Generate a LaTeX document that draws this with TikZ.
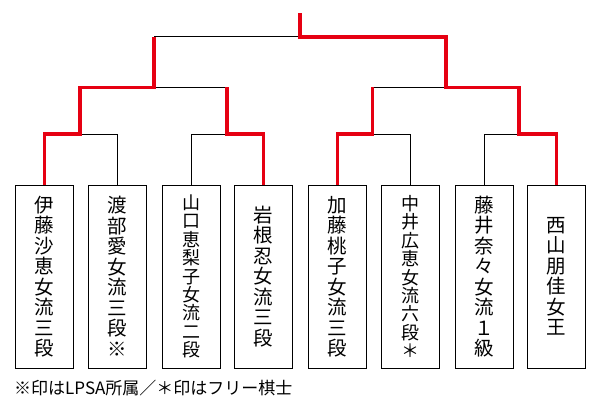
\documentclass[tikz,border=0pt]{standalone}
\usepackage{fontspec}
\newfontfamily\jp{Noto Sans CJK JP}
\definecolor{winred}{RGB}{230,0,18}
\tikzset{x=1pt, y=-1pt,
    player/.style={draw, line width=0.8pt, minimum width=58pt, minimum height=183pt,
        inner sep=0pt, align=center, font=\jp\fontsize{19.5}{20.5}\selectfont},
    longname/.style={font=\jp\fontsize{18}{18.4}\selectfont},
    loser/.style={draw=black, line width=0.8pt},
    winner/.style={draw=winred, line width=3.6pt},
    }
\begin{document}
\begin{tikzpicture}
\useasboundingbox (0,0) rectangle (600,400);
% players
\node[player] (p1) at (44.3,276.5) {伊\\藤\\沙\\恵\\女\\流\\三\\段};
\node[player] (p2) at (117.3,276.5) {渡\\部\\愛\\女\\流\\三\\段\\※};
\node[player,longname] (p3) at (191.3,276.5) {山\\口\\恵\\梨\\子\\女\\流\\二\\段};
\node[player] (p4) at (263.3,276.5) {岩\\根\\忍\\女\\流\\三\\段};
\node[player] (p5) at (337.3,276.5) {加\\藤\\桃\\子\\女\\流\\三\\段};
\node[player,longname] (p6) at (410.5,276.5) {中\\井\\広\\恵\\女\\流\\六\\段\\＊};
\node[player] (p7) at (484.3,276.5) {藤\\井\\奈\\々\\女\\流\\１\\級};
\node[player] (p8) at (556.3,276.5) {西\\山\\朋\\佳\\女\\王};
% junctions
\coordinate (j12) at (80,134);
\coordinate (j34) at (226.7,134);
\coordinate (j56) at (372.3,134);
\coordinate (j78) at (519,134);
\coordinate (j14) at (154,87.3);
\coordinate (j58) at (445.7,87.3);
\coordinate (final) at (300,36.8);
\coordinate (champ) at (300,13);
% black lines
\draw[loser] (p2.north) |- (j12);
\draw[loser] (p3.north) |- (j34);
\draw[loser] (j34 |- j14) -- (j14);
\draw[loser] (j14 |- final) -- (final);
\draw[loser] (p6.north) |- (j56);
\draw[loser] (j56 |- j58) -- (j58);
\draw[loser] (p7.north) |- (j78);
% red lines
\draw[winner] (p1.north) |- (j12) -- (j12 |- j14) -- (j14) -- (j14 |- final);
\draw[winner] (p4.north) |- (j34) -- (j34 |- j14);
\draw[winner] (p5.north) |- (j56) -- (j56 |- j58);
\draw[winner] (p8.north) |- (j78) -- (j78 |- j58) -- (j58) |- (final) -- (champ);
% note
\node[anchor=west, inner sep=0pt, font=\jp\fontsize{17}{18}\selectfont] (note) at (14,388.5)
    {※印はLPSA所属／＊印はフリー棋士};
\end{tikzpicture}
\end{document}
